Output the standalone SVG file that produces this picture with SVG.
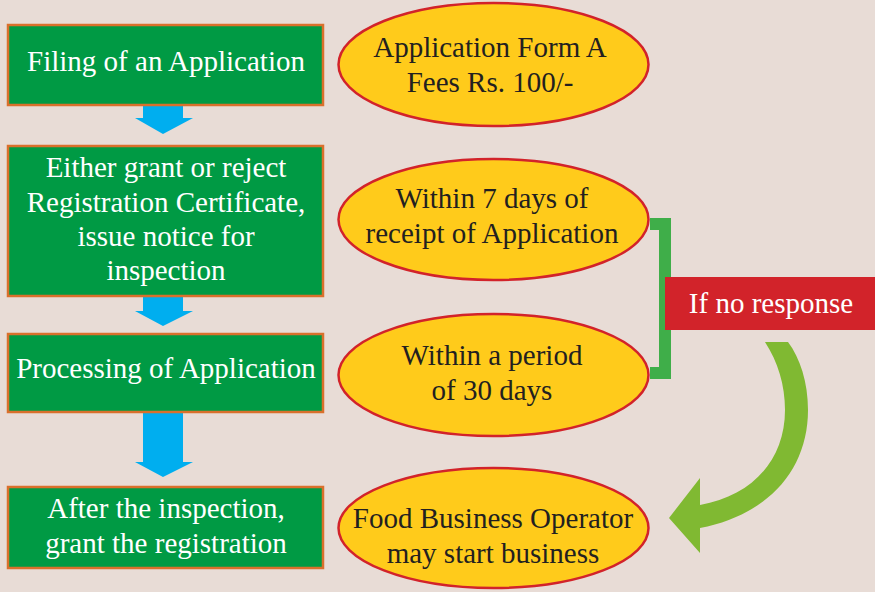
<svg xmlns="http://www.w3.org/2000/svg" width="875" height="592" viewBox="0 0 875 592">
<defs>
<style>
.box{fill:#009a44;stroke:#d9702c;stroke-width:2.5}
.ell{fill:#ffcb1b;stroke:#d2232a;stroke-width:2.5}
.wt{font-family:"Liberation Serif",serif;font-size:29px;fill:#ffffff;text-anchor:middle}
.dt{font-family:"Liberation Serif",serif;font-size:29px;fill:#231f20;text-anchor:middle}
.down{fill:#00aeef}
</style>
</defs>
<rect width="875" height="592" fill="#e8dcd6"/>
<g id="connectors">
<path class="down" d="M143,106 H183 V118 H193 L163,134 L135,118 H143 Z"/>
<path class="down" d="M143,297 H183 V311 H193 L163,326 L135,311 H143 Z"/>
<path class="down" d="M143,413 H183 V462 H193 L163,477 L135,462 H143 Z"/>
<path d="M650,224 H665 V373 H650" fill="none" stroke="#3fae49" stroke-width="12"/>
<path fill="#80b932" d="M765,342 L788,342 C800,358 808,382 808,410 C808,470 768,515 700,528 L700,553 L669,518 L700,478 L700,505 C752,496 785,460 785,410 C785,385 778,362 765,342 Z"/>
</g>
<g id="n1">
<rect class="box" x="8" y="25" width="315" height="80"/>
<text class="wt" x="166" y="71">Filing of an Application</text>
</g>
<g id="n2">
<rect class="box" x="8" y="146" width="315" height="150"/>
<text class="wt" x="166" y="177">Either grant or reject</text>
<text class="wt" x="166" y="212">Registration Certificate,</text>
<text class="wt" x="166" y="246">issue notice for</text>
<text class="wt" x="166" y="280">inspection</text>
</g>
<g id="n3">
<rect class="box" x="8" y="334" width="315" height="78"/>
<text class="wt" x="166" y="378">Processing of Application</text>
</g>
<g id="n4">
<rect class="box" x="8" y="487" width="315" height="81"/>
<text class="wt" x="166" y="518">After the inspection,</text>
<text class="wt" x="166" y="553">grant the registration</text>
</g>
<g id="e1">
<ellipse class="ell" cx="493.5" cy="64.5" rx="155" ry="61.5"/>
<text class="dt" x="490" y="57">Application Form A</text>
<text class="dt" x="490" y="92">Fees Rs. 100/-</text>
</g>
<g id="e2">
<ellipse class="ell" cx="493.5" cy="219.5" rx="155" ry="60.5"/>
<text class="dt" x="492" y="208">Within 7 days of</text>
<text class="dt" x="492" y="243">receipt of Application</text>
</g>
<g id="e3">
<ellipse class="ell" cx="493.5" cy="375" rx="155" ry="61"/>
<text class="dt" x="492" y="365">Within a period</text>
<text class="dt" x="492" y="400">of 30 days</text>
</g>
<g id="e4">
<ellipse class="ell" cx="493.5" cy="528" rx="155" ry="60"/>
<text class="dt" x="493" y="528">Food Business Operator</text>
<text class="dt" x="493" y="563">may start business</text>
</g>
<g id="noresp">
<rect x="665" y="277" width="210" height="53" fill="#d2232a"/>
<text class="wt" x="771" y="313">If no response</text>
</g>
</svg>
